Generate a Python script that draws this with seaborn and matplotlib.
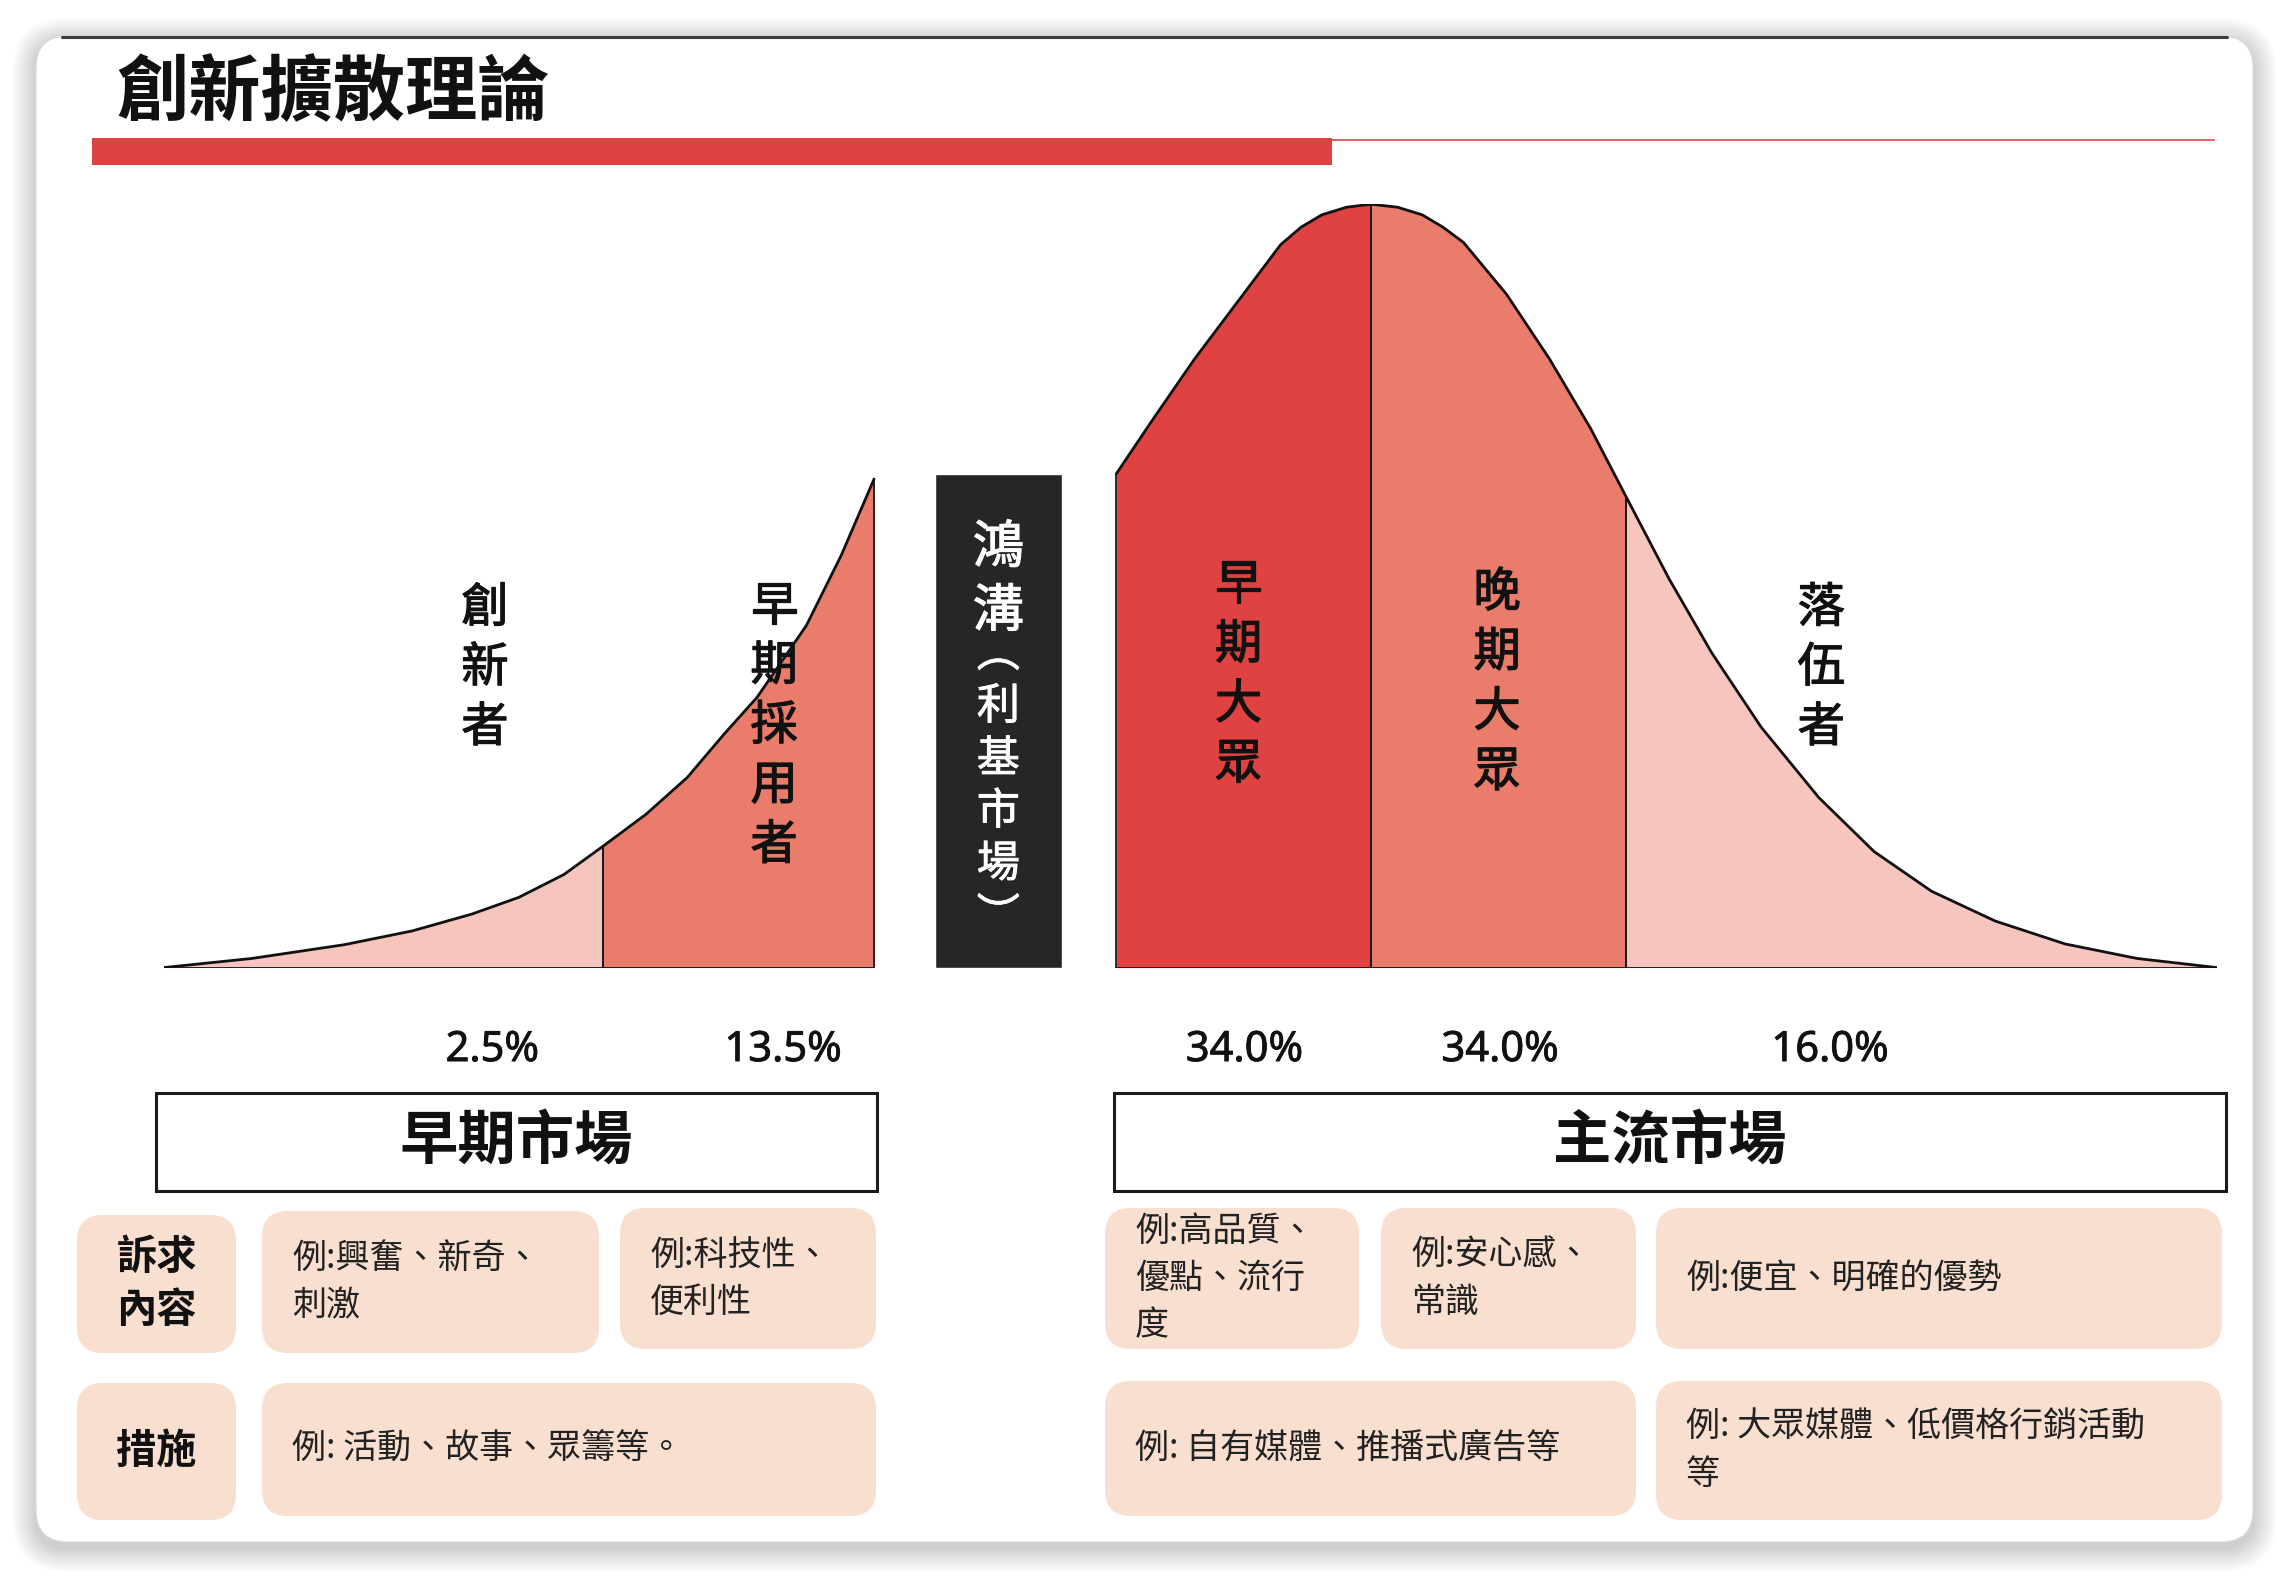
import numpy as np
import matplotlib.pyplot as plt
import matplotlib.patheffects as pe
import seaborn as sns
from matplotlib.patches import FancyBboxPatch, Rectangle

sns.set_theme(style="white")
plt.rcParams["font.family"] = ["Noto Sans CJK TC", "DejaVu Sans"]

# ---------------------------------------------------------------
# data
# ---------------------------------------------------------------
title = "創新擴散理論"
segments = ["創新者", "早期採用者", "早期大眾", "晚期大眾", "落伍者"]
shares = ["2.5%", "13.5%", "34.0%", "34.0%", "16.0%"]
seg_colors = ["#F5C5BE", "#EA7C6C", "#E04141", "#EA7C6C", "#F5C5BE"]

# curve outline: position along the axis (0-100) and height (peak = 100)
early_x = [0, 4.3, 8.8, 12.1, 15.0, 17.3, 19.5, 21.4, 23.5, 25.5, 27.3,
           28.9, 31.3, 33.0, 34.6]
early_h = [0, 1.2, 3.0, 4.8, 7.0, 9.2, 12.2, 15.9, 20.1, 24.9, 30.6,
           35.4, 44.8, 54.0, 64.0]
main_x = [46.4, 48.2, 50.2, 52.3, 54.4, 55.4, 56.4, 57.6, 58.8, 60.1, 61.3,
          62.3, 63.3, 65.4, 67.5, 69.5, 71.2, 73.3, 75.4, 77.8, 80.6, 83.3,
          86.1, 89.2, 92.6, 96.1, 100]
main_h = [64.7, 71.9, 79.7, 87.2, 94.7, 97.0, 98.6, 99.6, 100, 99.6, 98.6,
          97.0, 95.0, 88.2, 79.7, 70.6, 61.8, 51.0, 41.2, 31.5, 22.3, 15.2,
          10.0, 6.1, 3.1, 1.2, 0]
# segment boundaries (left, right) on the same axis
seg_bounds = [(0, 21.4), (21.4, 34.6), (46.4, 58.8), (58.8, 71.2), (71.2, 100)]

chasm_title = "鴻溝"
chasm_sub = "︵利基市場︶"

market_names = ["早期市場", "主流市場"]
row_titles = ["訴求\n內容", "措施"]
appeal_texts = ["例:興奮、新奇、\n刺激", "例:科技性、\n便利性",
                "例:高品質、\n優點、流行\n度", "例:安心感、\n常識",
                "例:便宜、明確的優勢"]
action_texts = ["例: 活動、故事、眾籌等。", "例: 自有媒體、推播式廣告等",
                "例: 大眾媒體、低價格行銷活動\n等"]

# ---------------------------------------------------------------
# layout (pixels of the 2290x1578 canvas)
# ---------------------------------------------------------------
W, H = 2290, 1578
RED = "#E04141"
PINK = "#F9DFCF"
heavier = [pe.withStroke(linewidth=0.9, foreground="#111111")]

label_pos = [(15.65, 39.2), (29.73, 31.6), (52.35, 38.3), (64.94, 37.3), (80.73, 39.2)]
share_x = [16.0, 30.16, 52.63, 65.08, 81.15]
market_boxes = [(156, 1093, 877, 1191), (1114, 1093, 2226, 1191)]
title_boxes = [(77, 1215, 236, 1353), (77, 1383, 236, 1520)]
appeal_boxes = [(262, 1211, 599, 1353), (620, 1208, 876, 1349),
                (1105, 1208, 1359, 1349), (1381, 1208, 1636, 1349),
                (1656, 1208, 2222, 1349)]
action_boxes = [(262, 1383, 876, 1516), (1105, 1381, 1636, 1516),
                (1656, 1381, 2222, 1520)]

fig = plt.figure(figsize=(W / 100, H / 100), dpi=100)
fig.patch.set_facecolor("#FFFFFF")

bg = fig.add_axes([0, 0, 1, 1])
bg.set_xlim(0, W)
bg.set_ylim(H, 0)
bg.axis("off")

# card with soft shadow
cx0, cy0, cx1, cy1 = 36, 36, 2253, 1542
for i in range(16):
    pad = 1.5 * (i + 1)
    bg.add_patch(FancyBboxPatch((cx0 - pad, cy0 - pad + 6), cx1 - cx0 + 2 * pad,
                                cy1 - cy0 + 2 * pad,
                                boxstyle=f"round,pad=0,rounding_size={32 + pad}",
                                fc="#000000", ec="none", alpha=0.010, zorder=0))
bg.add_patch(FancyBboxPatch((cx0, cy0), cx1 - cx0, cy1 - cy0,
                            boxstyle="round,pad=0,rounding_size=32",
                            fc="white", ec="#DADADA", lw=0.8, zorder=1))
bg.plot([cx0 + 26, cx1 - 26], [37, 37], color="#3C3C3C", lw=2.2, zorder=2,
        solid_capstyle="round")

# title and red rule
bg.text(116, 94, title, fontsize=52, fontweight="bold", ha="left", va="center",
        color="#111111", zorder=3)
bg.add_patch(Rectangle((92, 138), 1240, 27, fc=RED, ec="none", zorder=3))
bg.plot([1332, 2214], [139.5, 139.5], color=RED, lw=1.2, zorder=3)

# market headers
for (x0, y0, x1, y1), name in zip(market_boxes, market_names):
    bg.add_patch(Rectangle((x0, y0), x1 - x0, y1 - y0, fc="white", ec="#1A1A1A",
                           lw=2.2, zorder=3))
    bg.text((x0 + x1) / 2, (y0 + y1) / 2, name, fontsize=42, fontweight="bold",
            ha="center", va="center", color="#111111", zorder=4)


def pink_box(box, text, centered=False, bold=False, size=24):
    x0, y0, x1, y1 = box
    bg.add_patch(FancyBboxPatch((x0, y0), x1 - x0, y1 - y0,
                                boxstyle="round,pad=0,rounding_size=26",
                                fc=PINK, ec="none", zorder=3))
    if centered:
        bg.text((x0 + x1) / 2, (y0 + y1) / 2, text, fontsize=size,
                fontweight="bold" if bold else "normal", ha="center",
                va="center", color="#111111", linespacing=1.35, zorder=4)
    else:
        bg.text(x0 + 30, (y0 + y1) / 2, text, fontsize=size, ha="left",
                va="center", color="#222222", linespacing=1.45, zorder=4)


for box, t in zip(title_boxes, row_titles):
    pink_box(box, t, centered=True, bold=True, size=29)
for box, t in zip(appeal_boxes, appeal_texts):
    pink_box(box, t, size=24.5)
for box, t in zip(action_boxes, action_texts):
    pink_box(box, t, size=24.5)

# ---------------------------------------------------------------
# the adoption curve
# ---------------------------------------------------------------
left = 163.6 / W
bottom = 1 - 967.6 / H
ax = fig.add_axes([left, bottom, (2217 - 163.6) / W, (967.6 - 204.2) / H])
ax.set_xlim(0, 100)
ax.set_ylim(0, 100)
ax.patch.set_alpha(0)
ax.axis("off")

ex, eh = np.array(early_x), np.array(early_h)
mx, mh = np.array(main_x), np.array(main_h)
for (lo, hi), col in zip(seg_bounds, seg_colors):
    xs, hs = (ex, eh) if hi <= ex.max() else (mx, mh)
    m = (xs >= lo) & (xs <= hi)
    ax.fill_between(xs[m], 0, hs[m], color=col, lw=0, zorder=1)

# dividers between groups
for lo, hi in seg_bounds:
    for edge in (lo, hi):
        for xs, hs in ((ex, eh), (mx, mh)):
            hit = np.isclose(xs, edge)
            if hit.any() and hs[hit][0] > 0:
                ax.vlines(edge, 0, hs[hit][0], color="#1A1A1A", lw=1.3, zorder=2)

sns.lineplot(x=early_x, y=early_h, sort=False, estimator=None, color="#111111",
             lw=2.0, ax=ax, zorder=3)
sns.lineplot(x=main_x, y=main_h, sort=False, estimator=None, color="#111111",
             lw=2.0, ax=ax, zorder=3)
ax.hlines(0, early_x[0], early_x[-1], color="#111111", lw=2.0, zorder=3)
ax.hlines(0, main_x[0], main_x[-1], color="#111111", lw=2.0, zorder=3)

# chasm block
ax.bar(40.65, 64.6, width=6.2, color="#262626", zorder=2)
ax.text(40.65, 50.8, "\n".join(chasm_title), fontsize=37,
        color="white", ha="center", va="center", linespacing=1.25, zorder=4,
        path_effects=[pe.withStroke(linewidth=0.8, foreground="white")])
ax.text(40.65, 23.8, "\n".join(chasm_sub), fontsize=31,
        color="white", ha="center", va="center", linespacing=1.25, zorder=4,
        path_effects=[pe.withStroke(linewidth=0.6, foreground="white")])

# group labels (vertical) and shares
for (lx, ly), name in zip(label_pos, segments):
    ax.text(lx, ly, "\n".join(name), fontsize=34, color="#111111", ha="center",
            va="center", linespacing=1.3, zorder=4, path_effects=heavier)
for sx, s in zip(share_x, shares):
    ax.text(sx, -10.8, s, fontsize=30, family=["Noto Sans", "DejaVu Sans"],
            color="#111111", ha="center", va="center", clip_on=False, zorder=4,
            path_effects=[pe.withStroke(linewidth=0.6, foreground="#111111")])

fig.savefig("out.png", dpi=100)
